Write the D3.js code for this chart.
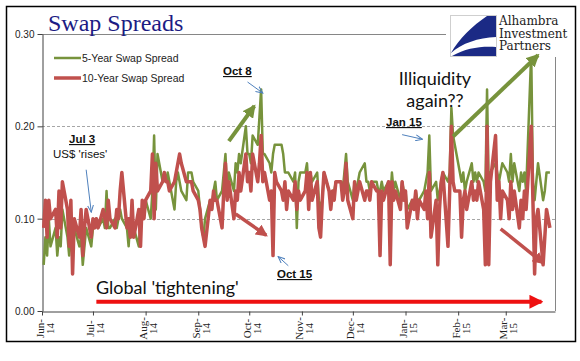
<!DOCTYPE html>
<html>
<head>
<meta charset="utf-8">
<script src="https://cdn.jsdelivr.net/npm/d3@7/dist/d3.min.js"></script>
<style>
  body { margin: 0; background: #fff; }
  svg { display: block; }
</style>
</head>
<body>
<div id="chart"></div>
<script>
// first business day of the series; one value per weekday after it
const firstDay = "2014-06-02";

// 5-year swap spread, one row per month (Jun-14 .. Mar-15)
const spread5y = [
  .05,.08,.06,.10,.07,.09,.06,.08,.07,.11,.08,.06,.08,.06,.09,.07,.08,.05,.07,.09,.07,
  .09,.09,.10,.09,.10,.09,.13,.09,.09,.10,.09,.10,.11,.10,.09,.07,.10,.08,.09,.07,.10,.11,.10,
  .12,.10,.13,.19,.11,.17,.14,.15,.14,.15,.14,.11,.14,.15,.14,.13,.12,.15,.15,.15,.14,
  .13,.11,.09,.08,.10,.12,.11,.13,.14,.12,.13,.15,.17,.13,.15,.13,.16,.15,.17,.16,.20,.17,
  .17,.16,.19,.18,.21,.24,.17,.17,.16,.15,.17,.18,.18,.18,.17,.15,.15,.15,.14,.15,.09,.14,.15,
  .15,.16,.13,.15,.14,.15,.12,.11,.12,.15,.13,.12,.13,.13,.14,.14,.13,.15,.17,.14,
  .12,.14,.13,.14,.15,.16,.14,.14,.13,.14,.14,.13,.13,.14,.13,.14,.12,.15,.13,.14,.12,.14,.13,
  .13,.11,.12,.11,.13,.12,.12,.13,.14,.15,.19,.13,.14,.12,.13,.14,.15,.14,.15,.22,.19,.18,
  .15,.14,.15,.13,.14,.16,.14,.15,.14,.15,.14,.13,.24,.13,.15,.16,.15,.14,.15,.16,
  .15,.14,.17,.14,.16,.13,.15,.14,.15,.13,.28,.14,.12,.14,.16,.12,.13,.15,.15,.15
];

// 10-year swap spread
const spread10y = [
  .09,.12,.08,.12,.10,.11,.08,.13,.09,.14,.11,.07,.12,.04,.10,.08,.11,.06,.09,.11,.08,
  .10,.09,.10,.09,.11,.10,.09,.12,.10,.09,.11,.10,.13,.15,.09,.10,.08,.12,.08,.11,.07,.12,.10,
  .12,.13,.17,.10,.16,.13,.14,.15,.14,.14,.13,.14,.15,.16,.17,.16,.14,.14,.14,.14,.13,
  .12,.11,.09,.08,.07,.12,.11,.13,.12,.12,.09,.13,.16,.12,.14,.10,.13,.12,.15,.13,.17,.14,
  .15,.13,.17,.14,.16,.19,.14,.15,.12,.13,.06,.15,.14,.13,.12,.14,.11,.13,.12,.14,.11,.13,.12,
  .13,.15,.11,.15,.12,.14,.09,.08,.12,.15,.13,.11,.13,.12,.14,.14,.12,.13,.16,.12,
  .10,.14,.12,.13,.14,.12,.13,.13,.12,.14,.13,.13,.06,.13,.12,.14,.05,.14,.12,.13,.11,.14,.12,
  .13,.09,.12,.11,.13,.10,.12,.11,.13,.10,.15,.08,.12,.05,.11,.14,.15,.07,.13,.20,.14,.13,
  .13,.08,.12,.13,.11,.14,.12,.13,.12,.14,.11,.05,.20,.05,.14,.19,.12,.14,.10,.13,
  .12,.10,.14,.11,.13,.09,.12,.10,.13,.11,.20,.12,.04,.10,.11,.05,.08,.11,.10,.09
];

const seriesNames = ["5-Year Swap Spread", "10-Year Swap Spread"];
const yTicks = [0, 0.10, 0.20, 0.30];
const monthTicks = ["2014-06-01","2014-07-01","2014-08-01","2014-09-01","2014-10-01",
  "2014-11-01","2014-12-01","2015-01-01","2015-02-01","2015-03-01"];

const W = 580, H = 361;
const plot = { left: 42, right: 555, top: 34, bottom: 311 };
const green = "#77933c", red = "#c0504d";

const parse = d3.utcParse("%Y-%m-%d");
const days = d3.utcDay.range(parse(firstDay), parse("2015-06-01"))
  .filter(d => d.getUTCDay() !== 0 && d.getUTCDay() !== 6)
  .slice(0, spread5y.length);

const x = d3.scaleUtc()
  .domain([parse("2014-06-01"), parse("2015-03-30")])
  .range([plot.left, plot.right]);
const y = d3.scaleLinear().domain([0, 0.3]).range([plot.bottom, plot.top]);
const pt = (d, v) => [x(parse(d)), y(v)];

const svg = d3.select("#chart").append("svg")
  .attr("width", W).attr("height", H);

svg.append("rect").attr("width", W).attr("height", H).attr("fill", "#fff");

// outer frame
svg.append("rect")
  .attr("x", 6.5).attr("y", 6.5).attr("width", 569).attr("height", 335)
  .attr("fill", "none").attr("stroke", "#000").attr("stroke-width", 1.5);

const defs = svg.append("defs");
function marker(id, color, len, wid, open) {
  const m = defs.append("marker").attr("id", id)
    .attr("markerUnits", "userSpaceOnUse")
    .attr("viewBox", `0 ${-wid / 2} ${len} ${wid}`)
    .attr("refX", open ? len - 1 : len - 2).attr("refY", 0)
    .attr("markerWidth", len).attr("markerHeight", wid)
    .attr("orient", "auto");
  if (open) {
    m.append("path").attr("d", `M0,${-wid / 2 + 0.5}L${len - 1},0L0,${wid / 2 - 0.5}`)
      .attr("fill", "none").attr("stroke", color).attr("stroke-width", 1);
  } else {
    m.append("path").attr("d", `M0,${-wid / 2}L${len},0L0,${wid / 2}Z`).attr("fill", color);
  }
}
marker("hBlue", "#4f81bd", 8, 7, true);
marker("hGreen", green, 13, 13, false);
marker("hRed", red, 12, 12, false);
marker("hBright", "#ee1111", 14, 14, false);

// plot border + grid
svg.append("line")
  .attr("x1", plot.left).attr("x2", plot.right).attr("y1", plot.top + 0.5).attr("y2", plot.top + 0.5)
  .attr("stroke", "#868686");
svg.append("line")
  .attr("x1", plot.right + 0.5).attr("x2", plot.right + 0.5).attr("y1", plot.top).attr("y2", plot.bottom)
  .attr("stroke", "#868686");
svg.append("g").selectAll("line")
  .data(yTicks.filter(v => v > 0 && v < 0.3))
  .join("line")
  .attr("x1", plot.left).attr("x2", plot.right)
  .attr("y1", d => Math.round(y(d)) + 0.5).attr("y2", d => Math.round(y(d)) + 0.5)
  .attr("stroke", "#a6a6a6").attr("stroke-dasharray", "3,2");

// y axis
const yAxis = svg.append("g")
  .attr("transform", `translate(${plot.left + 0.5},0)`)
  .call(d3.axisLeft(y).tickValues(yTicks).tickFormat(d3.format(".2f")).tickSize(5).tickSizeOuter(0));
yAxis.select(".domain").attr("stroke", "#404040");
yAxis.selectAll(".tick line").attr("stroke", "#404040");
yAxis.selectAll(".tick text")
  .attr("x", -8).attr("dy", "0.35em")
  .style("font", "10px 'Liberation Sans', Arial, sans-serif").attr("fill", "#222");

// x axis
const xAxis = svg.append("g")
  .attr("transform", `translate(0,${plot.bottom + 0.5})`)
  .call(d3.axisBottom(x).tickValues(monthTicks.map(parse)).tickFormat("").tickSize(4).tickSizeOuter(0));
xAxis.select(".domain").attr("stroke", "#404040");
xAxis.selectAll(".tick line").attr("stroke", "#404040");
const lbl = xAxis.selectAll(".tick").append("text")
  .attr("transform", "translate(0,17) rotate(-90)")
  .attr("text-anchor", "middle")
  .attr("fill", "#222")
  .style("font", "11px 'Liberation Serif', 'Times New Roman', serif");
lbl.append("tspan").attr("x", 0).attr("y", 1).text(d => d3.utcFormat("%b-")(d));
lbl.append("tspan").attr("x", 0).attr("y", 11).text(d => d3.utcFormat("%y")(d));

// series
const line = d3.line().x((d, i) => x(days[i])).y(d => y(d));
svg.append("path").datum(spread5y).attr("d", line)
  .attr("fill", "none").attr("stroke", green).attr("stroke-width", 2.5).attr("stroke-linejoin", "round");
svg.append("path").datum(spread10y).attr("d", line)
  .attr("fill", "none").attr("stroke", red).attr("stroke-width", 3.5).attr("stroke-linejoin", "round");

// legend
const leg = svg.append("g").style("font", "10.5px 'Liberation Sans', Arial, sans-serif");
[[green, 2.5], [red, 3.5]].forEach(([c, w], i) => {
  const ly = 58 + i * 20;
  leg.append("line").attr("x1", 54).attr("x2", 81).attr("y1", ly).attr("y2", ly)
    .attr("stroke", c).attr("stroke-width", w);
  leg.append("text").attr("x", 82).attr("y", ly + 4).attr("fill", "#222").text(seriesNames[i]);
});

// title
svg.append("text").attr("x", 48).attr("y", 31)
  .attr("fill", "#1c1c84")
  .style("font", "24px 'Liberation Serif', 'Times New Roman', serif")
  .text("Swap Spreads");

// logo
svg.append("rect").attr("x", 446).attr("y", 10).attr("width", 115).attr("height", 47).attr("fill", "#fff");
svg.append("rect").attr("x", 450.5).attr("y", 15.5).attr("width", 46).attr("height", 41)
  .attr("fill", "#fff").attr("stroke", "#cfcfcf");
svg.append("path")
  .attr("d", "M496,16 L487,16 C472,26 459,39 451,53 C462,43 478,38 496,37 Z M452,56 C466,48 481,46 496,47 L496,56 Z")
  .attr("fill", "#1b2a85");
const logo = svg.append("g").attr("fill", "#222")
  .style("font", "12px 'DejaVu Serif', serif");
["Alhambra", "Investment", "Partners"].forEach((t, i) =>
  logo.append("text").attr("x", 499).attr("y", 25 + i * 12.5).text(t));

// annotations
const ann = svg.append("g");
function arrow(a, b, color, width, head) {
  ann.append("line")
    .attr("x1", a[0]).attr("y1", a[1]).attr("x2", b[0]).attr("y2", b[1])
    .attr("stroke", color).attr("stroke-width", width)
    .attr("marker-end", `url(#${head})`);
}
arrow(pt("2014-09-30", .248), pt("2014-10-09", .236), "#4f81bd", 1, "hBlue");
arrow(pt("2014-06-27", .153), pt("2014-06-30", .107), "#4f81bd", 1, "hBlue");
arrow(pt("2014-10-24", .049), pt("2014-10-18", .059), "#4f81bd", 1, "hBlue");
arrow(pt("2014-12-30", .191), pt("2015-01-11", .186), "#4f81bd", 1, "hBlue");
arrow(pt("2014-09-19", .184), pt("2014-10-04", .222), green, 4, "hGreen");
arrow(pt("2015-01-29", .189), pt("2015-03-20", .277), green, 4, "hGreen");
arrow(pt("2014-09-23", .105), pt("2014-10-11", .082), red, 3.5, "hRed");
arrow(pt("2015-02-26", .089), pt("2015-03-23", .052), red, 3.5, "hRed");
arrow(pt("2014-07-03", .010), pt("2015-03-22", .010), "#ee1111", 4, "hBright");

const bold = "bold 11.5px 'Liberation Sans', Arial, sans-serif";
[["Oct 8", 223, 75], ["Jul 3", 69, 143], ["Jan 15", 386, 126], ["Oct 15", 277, 278]]
  .forEach(([t, tx, ty]) => ann.append("text").attr("x", tx).attr("y", ty)
    .style("font", bold).style("text-decoration", "underline").attr("fill", "#111").text(t));
ann.append("text").attr("x", 53).attr("y", 158)
  .style("font", "11.5px 'Liberation Sans', Arial, sans-serif").attr("fill", "#111").text("US$ 'rises'");

const big = "18px Lato, 'Liberation Sans', sans-serif";
ann.append("text").attr("x", 435).attr("y", 85).attr("text-anchor", "middle")
  .style("font", big).attr("fill", "#111").text("Illiquidity");
ann.append("text").attr("x", 435).attr("y", 107).attr("text-anchor", "middle")
  .style("font", big).attr("fill", "#111").text("again??");
ann.append("text").attr("x", 96).attr("y", 294)
  .style("font", big).attr("fill", "#111").text("Global 'tightening'");
</script>
</body>
</html>
